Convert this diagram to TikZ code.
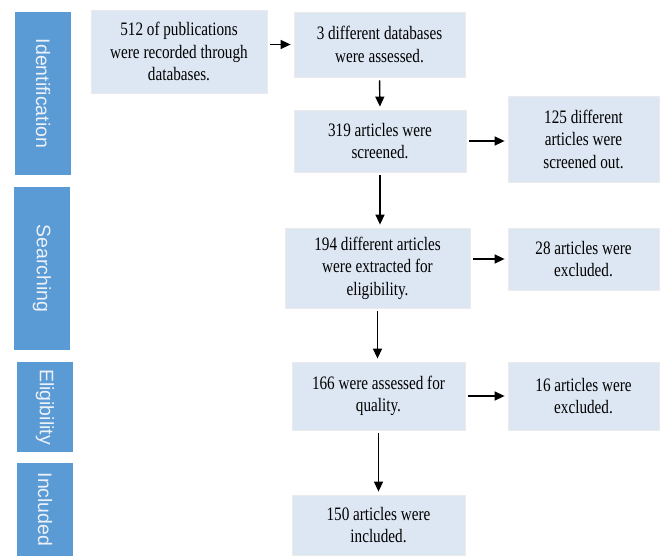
\documentclass[tikz,border=0pt]{standalone}
\usepackage{fontspec}
\setmainfont{Liberation Serif}[FakeStretch=0.8]
\newfontfamily\barfont{Liberation Sans}
\usetikzlibrary{arrows.meta}
\definecolor{stageblue}{RGB}{91,155,213}
\definecolor{boxfill}{RGB}{221,231,243}
\definecolor{bartext}{RGB}{236,241,248}

\begin{document}
\begin{tikzpicture}[x=1pt,y=-1pt,
    stagebar/.style={fill=stageblue, rotate=-90, minimum height=56pt, inner sep=0pt,
      text=bartext, font=\barfont\fontsize{19.5}{19.5}\selectfont},
    flowbox/.style={fill=boxfill, draw=black!8, line width=0.8pt, align=center,
      inner sep=0pt, font=\fontsize{19}{22.5}\selectfont},
    arr/.style={-{Triangle[length=10pt,width=9pt]}, line width=1.4pt,
      shorten <=3pt, shorten >=3pt}]
  \useasboundingbox (0,0) rectangle (660,556);

  % Stage bars on the left
  \foreach \i/\x/\y/\len/\lab in {1/43/93.5/163/Identification, 2/42/268.5/163/Searching,
      3/45/407/90/Eligibility, 4/45/509.5/93/Included} {
    \node[stagebar, minimum width=\len pt] (bar\i) at (\x,\y) {\lab};
  }

  % Identification
  \node[flowbox, minimum width=176pt, minimum height=83pt] (recorded) at (179,51.5)
    {512 of publications\\were recorded through\\databases.};
  \node[flowbox, minimum width=171pt, minimum height=65pt] (dbs) at (379.5,44.5)
    {3 different databases\\were assessed.};
  \node[flowbox, minimum width=172pt, minimum height=62pt] (screened) at (380,141)
    {319 articles were\\screened.};
  \node[flowbox, minimum width=151pt, minimum height=86pt] (screenout) at (583.5,139)
    {125 different\\articles were\\screened out.};

  % Searching
  \node[flowbox, minimum width=185pt, minimum height=80pt] (extracted) at (377.5,268)
    {194 different articles\\were extracted for\\eligibility.};
  \node[flowbox, minimum width=151pt, minimum height=62pt] (excl1) at (583.5,259)
    {28 articles were\\excluded.};

  % Eligibility
  \node[flowbox, minimum width=173pt, minimum height=68pt] (quality) at (378.5,396)
    {166 were assessed for\\quality.};
  \node[flowbox, minimum width=151pt, minimum height=68pt] (excl2) at (583.5,396)
    {16 articles were\\excluded.};

  % Included
  \node[flowbox, minimum width=173pt, minimum height=60pt] (included) at (378.5,525)
    {150 articles were\\included.};

  % Arrows
  \draw[arr] (recorded.east |- dbs) -- (dbs.west);
  \draw[arr] (dbs.south) -- (screened.north);
  \draw[arr] (screened.east) -- (screenout.west |- screened);
  \draw[arr] (screened.south) -- (extracted.north -| screened);
  \draw[arr] (extracted.east |- excl1) -- (excl1.west);
  \draw[arr] (extracted.south) -- (quality.north -| extracted);
  \draw[arr] (quality.east) -- (excl2.west);
  \draw[arr] (quality.south) -- (included.north);
\end{tikzpicture}
\end{document}
